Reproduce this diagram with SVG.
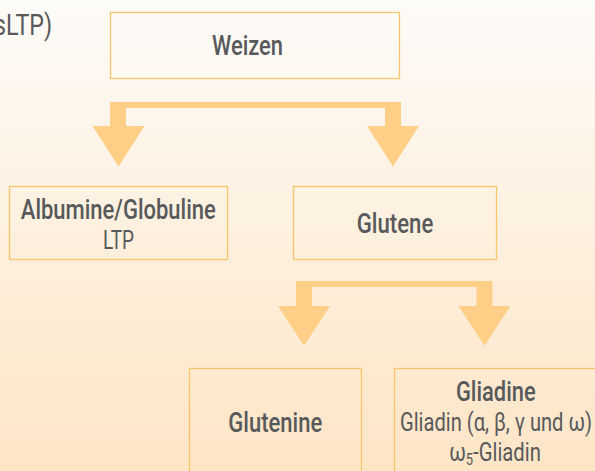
<svg xmlns="http://www.w3.org/2000/svg" width="595" height="471" viewBox="0 0 595 471">
<defs>
<linearGradient id="bg" x1="0" y1="0" x2="0" y2="1">
<stop offset="0" stop-color="#fdfbf8"/>
<stop offset="0.5" stop-color="#fdf0de"/>
<stop offset="1" stop-color="#fee5c6"/>
</linearGradient>
<style>
.box{fill:none;stroke:#f8c56c;stroke-width:1.3}
.t{font-family:Roboto,"Liberation Sans",sans-serif;fill:#58595b;text-anchor:middle}
.b{font-weight:500;font-size:27.5px}
.r{font-weight:400;font-size:25px}
.arrow{fill:#ffcf87}
</style>
</defs>
<rect width="595" height="471" fill="url(#bg)"/>
<text class="t" x="-6" y="34.5" font-size="29" style="text-anchor:start" textLength="58" lengthAdjust="spacingAndGlyphs">sLTP)</text>
<g id="weizen">
<rect class="box" x="110.5" y="12.5" width="289" height="66"/>
<text class="t b" x="247.5" y="55" textLength="71" lengthAdjust="spacingAndGlyphs">Weizen</text>
</g>
<g id="albumine">
<rect class="box" x="9.5" y="186.5" width="218" height="73"/>
<text class="t b" x="118.3" y="219.3" textLength="195" lengthAdjust="spacingAndGlyphs">Albumine/Globuline</text>
<text class="t r" x="118.5" y="249.3" textLength="31" lengthAdjust="spacingAndGlyphs">LTP</text>
</g>
<g id="glutene">
<rect class="box" x="293.5" y="186.5" width="203" height="73"/>
<text class="t b" x="395" y="232.7" textLength="76.6" lengthAdjust="spacingAndGlyphs">Glutene</text>
</g>
<g id="glutenine">
<rect class="box" x="189.5" y="368.5" width="172" height="120"/>
<text class="t b" x="275.3" y="431.7" textLength="94" lengthAdjust="spacingAndGlyphs">Glutenine</text>
</g>
<g id="gliadine">
<rect class="box" x="394.5" y="368.5" width="220" height="120"/>
<text class="t b" x="495.8" y="401" font-size="26" textLength="79.7" lengthAdjust="spacingAndGlyphs">Gliadine</text>
<text class="t r" x="496" y="431" textLength="192" lengthAdjust="spacingAndGlyphs">Gliadin (α, β, γ und ω)</text>
<text class="t r" x="495" y="461" textLength="91.7" lengthAdjust="spacingAndGlyphs">ω<tspan font-size="16" baseline-shift="-4">5</tspan>-Gliadin</text>
</g>
<g id="connectors">
<path class="arrow" d="M110,102 H401 V126 H419 L393,166.5 L367,126 H385 V108 H126 V126 H144.5 L118.5,166.5 L92.5,126 H110 Z"/>
<path class="arrow" d="M296,281 H492.5 V306 H510.5 L484.5,345.7 L458.5,306 H476.5 V287 H312 V306 H330 L304,345.7 L278,306 H296 Z"/>
</g>
</svg>
